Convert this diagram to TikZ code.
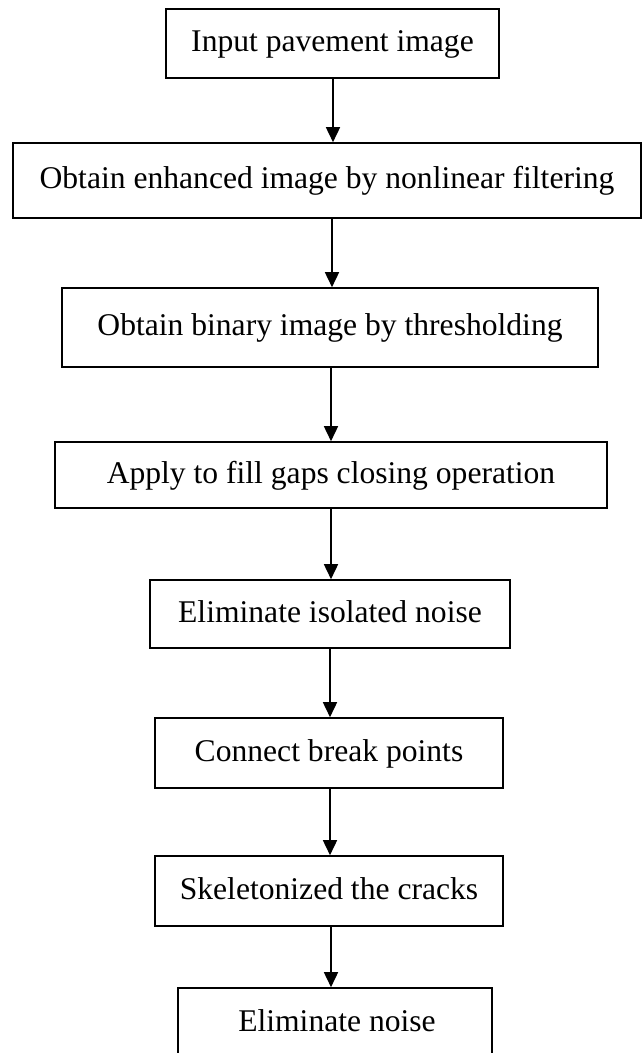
\documentclass[tikz,border=0pt]{standalone}
\usepackage{fontspec}
\setmainfont{Liberation Serif}
\usetikzlibrary{arrows.meta}
\begin{document}
\begin{tikzpicture}[x=1pt,y=-1pt,
  box/.style={draw=black,line width=1.6pt,inner sep=0pt,
    text height=22pt,text depth=6pt,
    font=\fontsize{31.6}{38}\selectfont},
  arr/.style={draw=black,line width=1.6pt,-{Triangle[length=15pt,width=14pt]}}]
\useasboundingbox (0,0) rectangle (642,1053);
\clip (0,0) rectangle (642,1053);
\fill[white] (0,0) rectangle (642,1053);
\node[box,minimum width=333pt,minimum height=69pt] (b1) at (332.5,43.5) {Input pavement image};
\node[box,minimum width=628pt,minimum height=75pt] (b2) at (327,180.5) {Obtain enhanced image by nonlinear filtering};
\node[box,minimum width=536pt,minimum height=79pt] (b3) at (330,327.5) {Obtain binary image by thresholding};
\node[box,minimum width=552pt,minimum height=66pt] (b4) at (331,475) {Apply to fill gaps closing operation};
\node[box,minimum width=360pt,minimum height=68pt] (b5) at (330,614) {Eliminate isolated noise};
\node[box,minimum width=348pt,minimum height=70pt] (b6) at (329,753) {Connect break points};
\node[box,minimum width=348pt,minimum height=70pt] (b7) at (329,891) {Skeletonized the cracks};
\node[box,minimum width=314pt,minimum height=70pt] (b8) at (335,1023) {\hspace*{4pt}Eliminate noise};
\coordinate (c1) at (333,0);
\coordinate (c2) at (332,0);
\coordinate (c3) at (331,0);
\coordinate (c4) at (331,0);
\coordinate (c5) at (330,0);
\coordinate (c6) at (330,0);
\coordinate (c7) at (331,0);
\draw[arr] (b1.south -| c1) -- (b2.north -| c1);
\draw[arr] (b2.south -| c2) -- (b3.north -| c2);
\draw[arr] (b3.south -| c3) -- (b4.north -| c3);
\draw[arr] (b4.south -| c4) -- (b5.north -| c4);
\draw[arr] (b5.south -| c5) -- (b6.north -| c5);
\draw[arr] (b6.south -| c6) -- (b7.north -| c6);
\draw[arr] (b7.south -| c7) -- (b8.north -| c7);
\end{tikzpicture}
\end{document}
